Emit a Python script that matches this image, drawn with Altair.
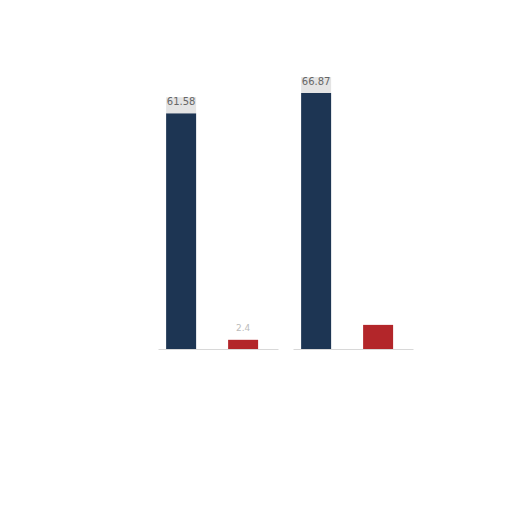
import altair as alt
import pandas as pd

groups = ["A", "A", "B", "B"]
series = ["navy", "red", "navy", "red"]
values = [61.58, 2.4, 66.87, 6.3]
labels = ["61.58", "2.4", "66.87", ""]
boxed = [True, False, True, False]

df = pd.DataFrame({"group": groups, "series": series, "value": values,
                   "label": labels, "boxed": boxed})

xenc = alt.X("series:N", axis=alt.Axis(labels=False, ticks=False, title=None,
                                        domainColor="#d8d8d8", grid=False),
             scale=alt.Scale(paddingInner=0.516, paddingOuter=0.226, align=0.29))
yscale = alt.Scale(domain=[0, 70])

bars = alt.Chart().mark_bar(size=30).encode(
    x=xenc,
    y=alt.Y("value:Q", scale=yscale, axis=None),
    color=alt.Color("series:N", scale=alt.Scale(domain=["navy", "red"],
                                                range=["#1d3553", "#b3262a"]),
                    legend=None),
)

box = alt.Chart().mark_tick(size=30, thickness=16, yOffset=-8, color="#e4e4e4",
                            opacity=1).encode(
    x=xenc, y=alt.Y("value:Q", scale=yscale)
).transform_filter("datum.boxed")

text_main = alt.Chart().mark_text(baseline="alphabetic", dy=-8, fontSize=10,
                                  color="#666666", font="DejaVu Sans").encode(
    x=xenc, y=alt.Y("value:Q", scale=yscale), text="label:N"
).transform_filter("datum.boxed")

text_small = alt.Chart().mark_text(baseline="alphabetic", dy=-9, fontSize=9,
                                   color="#bbbbbb", font="DejaVu Sans").encode(
    x=xenc, y=alt.Y("value:Q", scale=yscale), text="label:N"
).transform_filter("!datum.boxed")

chart = alt.layer(bars, box, text_main, text_small, data=df).properties(
    width=120, height=268
).facet(
    column=alt.Column("group:N", header=alt.Header(labels=False), title="")
).properties(
    spacing=15, padding={"left": 150, "top": 68, "right": 5, "bottom": 5}
).configure_view(stroke=None)

chart.save("out.html", embed_options={"renderer": "svg", "actions": False})
